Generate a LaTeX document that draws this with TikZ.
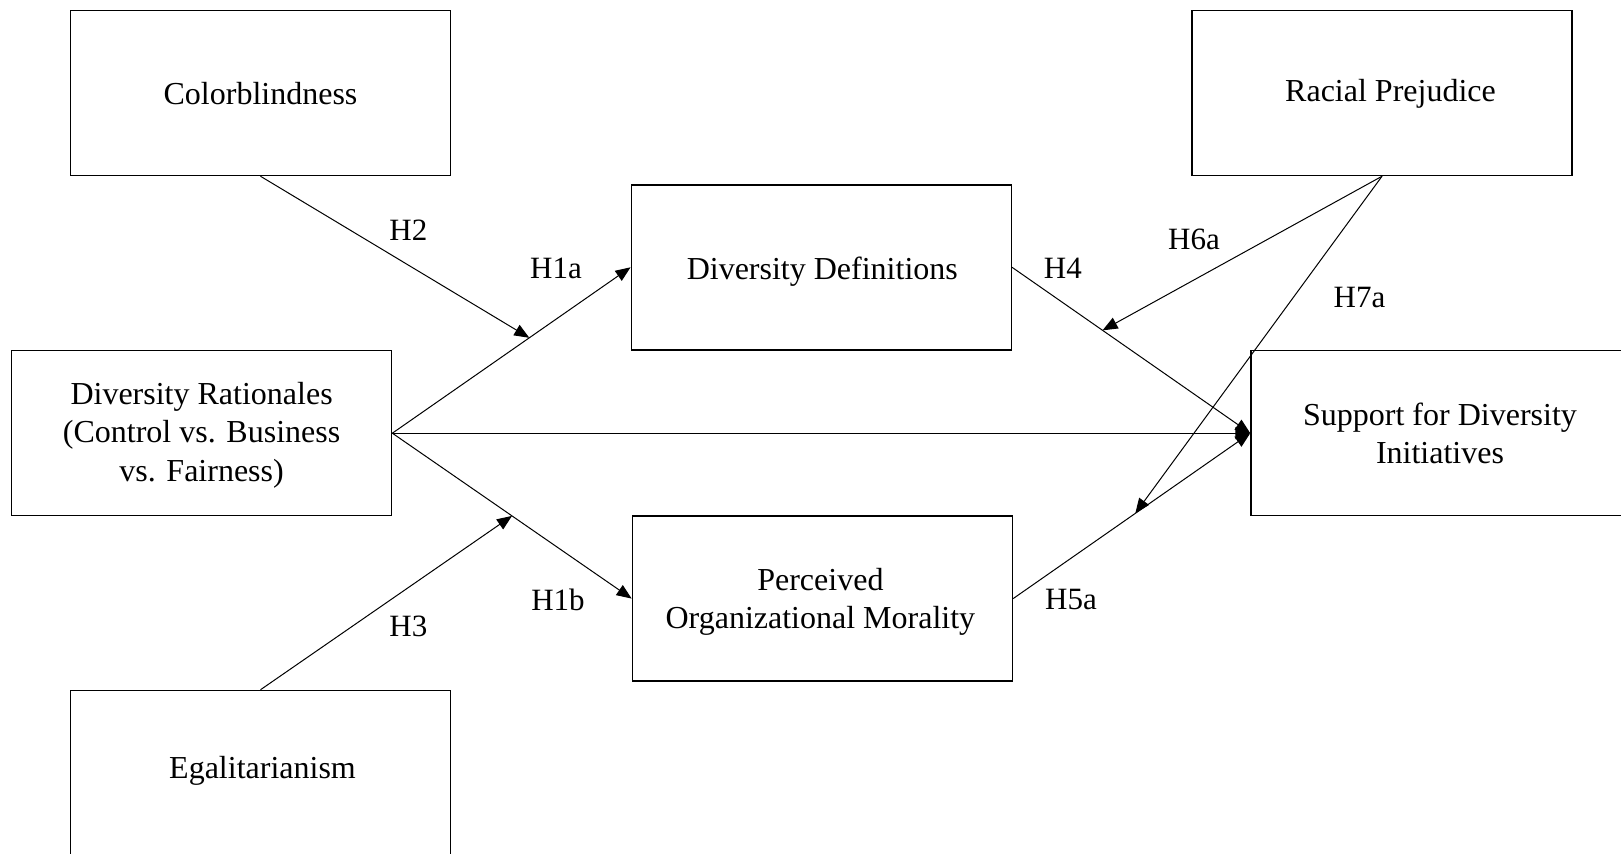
\documentclass[tikz,border=0pt]{standalone}
\usepackage{fontspec}
\setmainfont{Liberation Serif}
\usetikzlibrary{arrows.meta,calc}
\begin{document}
\begin{tikzpicture}[x=0.5pt,y=-0.5pt,
  varbox/.style={draw, line width=0.75pt, minimum width=190pt, minimum height=82.5pt, inner sep=0pt},
  vartext/.style={align=center, inner sep=0pt, font=\fontsize{16}{19.1}\selectfont},
  path/.style={line width=0.5pt, -{Triangle[length=7.5pt,width=6pt]}},
  hyp/.style={font=\fontsize{15.5}{19.1}\selectfont, inner sep=0pt}]
\useasboundingbox (0,0) rectangle (1621,854);

% variable boxes
\node[varbox] (colb) at (260.5,93)    {};
\node[varbox] (rac)  at (1382,93)     {};
\node[varbox] (def)  at (821.3,267.3) {};
\node[varbox] (rat)  at (201.6,433.2) {};
\node[varbox] (sup)  at (1441,433.2)  {};
\node[varbox] (mor)  at (822.4,598.6) {};
\node[varbox] (egal) at (260.5,773)   {};

% variable names
\node[vartext] (tcolb) at ($(colb.center)+(0,1)$)    {Colorblindness};
\node[vartext] (trac)  at ($(rac.center)+(8.5,1)$)   {Racial Prejudice};
\node[vartext] (tdef)  at ($(def.center)+(1,4)$)     {Diversity Definitions};
\node[vartext] (trat)  at ($(rat.center)+(0,2)$)     {Diversity Rationales\\(Control vs. Business\\vs. Fairness)};
\node[vartext] (tsup)  at ($(sup.center)+(-1,0)$)    {Support for Diversity\\Initiatives};
\node[vartext] (tmor)  at ($(mor.center)+(-2,3.5)$)  {Perceived\\Organizational Morality};
\node[vartext] (tegal) at ($(egal.center)+(2,-2)$)   {Egalitarianism};

% moderator targets on the mediating paths
\coordinate (h2tip) at ($(rat.east)!0.575!(def.west)$);
\coordinate (h3tip) at ($(rat.east)!0.50!(mor.west)$);
\coordinate (h6tip) at ($(def.east)!0.38!(sup.west)$);
\coordinate (h7tip) at ($(mor.east)!0.515!(sup.west)$);

% paths
\draw[path] (rat.east) -- (def.west);
\draw[path] (rat.east) -- (mor.west);
\draw[path] (rat.east) -- (sup.west);
\draw[path] (def.east) -- (sup.west);
\draw[path] (mor.east) -- (sup.west);
\draw[path] (colb.south) -- (h2tip);
\draw[path] (egal.north) -- (h3tip);
\draw[path] (rac.south) -- (h6tip);
\draw[path] (rac.south) -- (h7tip);

% hypothesis labels
\node[hyp] (lh2)  at (408.4,230.5) {H2};
\node[hyp] (lh1a) at (556,268.8)   {H1a};
\node[hyp] (lh1b) at (558,599.6)   {H1b};
\node[hyp] (lh3)  at (408.4,626.5) {H3};
\node[hyp] (lh4)  at (1062.8,268.8) {H4};
\node[hyp] (lh6a) at (1194,239.8)  {H6a};
\node[hyp] (lh7a) at (1359.5,297.7) {H7a};
\node[hyp] (lh5a) at (1071,599.6)  {H5a};
\end{tikzpicture}
\end{document}
